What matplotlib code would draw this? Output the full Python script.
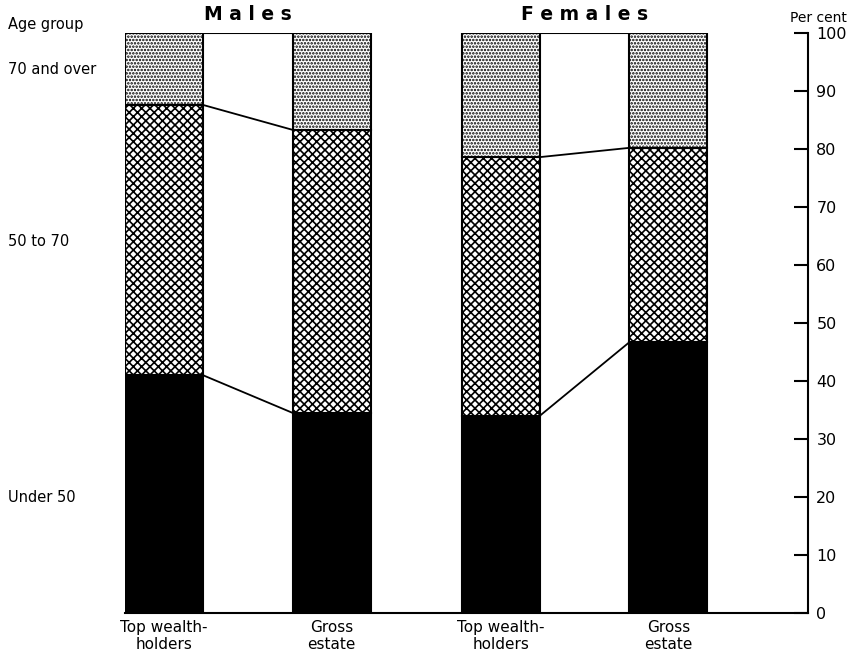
import matplotlib.pyplot as plt
import numpy as np

plt.rcParams['font.family'] = ['DejaVu Sans']
plt.rcParams['hatch.linewidth'] = 1.2

# per cent in each age group (bottom to top)
bars = ['Top wealth-\nholders', 'Gross\nestate', 'Top wealth-\nholders', 'Gross\nestate']
under50 = np.array([41.0, 34.5, 34.0, 46.7])
age50to70 = np.array([46.6, 48.8, 44.6, 33.5])
over70 = 100 - under50 - age50to70
groups = ['Males', 'Females']
age_labels = ['70 and over', '50 to 70', 'Under 50']

fig = plt.figure(figsize=(8.49, 6.57), dpi=100)
ax = fig.add_axes([125/849, 44/657, 683/849, 580/657])

w = 1.0
lefts = np.array([0, 2.15, 4.32, 6.47])
ax.bar(lefts, under50, w, align='edge', color='black', edgecolor='black', lw=1.5)
ax.bar(lefts, age50to70, w, bottom=under50, align='edge', color='white',
       edgecolor='black', hatch='xxxx', lw=1.5)
ax.bar(lefts, over70, w, bottom=under50 + age50to70, align='edge', color='white',
       edgecolor='black', hatch='.....', lw=1.5)

# connecting lines inside each group
for i in (0, 2):
    x0, x1 = lefts[i] + w, lefts[i + 1]
    ax.plot([x0, x1], [under50[i], under50[i + 1]], color='black', lw=1.3)
    b1, b2 = under50[i] + age50to70[i], under50[i + 1] + age50to70[i + 1]
    ax.plot([x0, x1], [b1, b2], color='black', lw=1.3)
    ax.plot([x0, x1], [100, 100], color='black', lw=1.5)
    ax.text((lefts[i] + lefts[i + 1] + w) / 2, 101.5, ' '.join(groups[i // 2]),
            ha='center', va='bottom', fontsize=13.5, fontweight='semibold')

ax.set_xlim(0, 8.76)
ax.set_ylim(0, 100)
ax.set_xticks(lefts + w / 2)
ax.set_xticklabels(bars, fontsize=11, linespacing=1.2)
ax.tick_params(axis='x', length=0, pad=5)

ax.yaxis.tick_right()
ax.set_yticks(np.arange(0, 101, 10))
ax.tick_params(axis='y', direction='in', length=10, width=1.5, labelsize=11.5, pad=6)
for s in ('top', 'left'):
    ax.spines[s].set_visible(False)
ax.spines['right'].set_linewidth(1.5)
ax.spines['bottom'].set_linewidth(1.5)
ax.spines['right'].set_bounds(0, 100)

fig.text(818/849, 1 - 18/657, 'Per cent', ha='center', va='center', fontsize=10)
fig.text(8/849, 1 - 25/657, 'Age group', ha='left', va='center', fontsize=10.5)
label_y = [70, 242, 497]
for lab, yp in zip(age_labels, label_y):
    fig.text(8/849, 1 - yp/657, lab, ha='left', va='center', fontsize=10.5)

fig.savefig('out.png', dpi=100)
